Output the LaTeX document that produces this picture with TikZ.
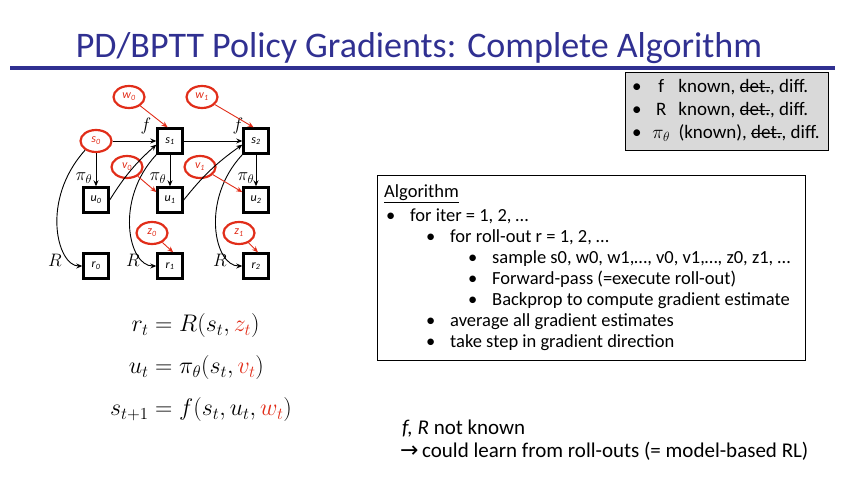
\RequirePackage{fix-cm}
\documentclass[tikz,border=0pt]{standalone}
\usepackage{amsmath}
\usepackage{fontspec}
\setmainfont{Carlito}
\newfontfamily\arrowfont{DejaVu Sans}
\usepackage{xcolor}
\usetikzlibrary{arrows.meta, shapes.geometric}
\definecolor{SlideBlue}{RGB}{48, 48, 145}
\definecolor{NoiseRed}{RGB}{225, 45, 25}
\definecolor{PropGray}{RGB}{217, 217, 217}
\newcommand{\crossout}[1]{\setbox0\hbox{#1}\rlap{\rule[0.27em]{\wd0}{0.07em}}\box0}

\tikzset{
  statebox/.style={draw=black, line width=2.4pt, minimum size=25pt, inner sep=0pt,
    font=\fontsize{12}{13}\selectfont\itshape},
  noise/.style={ellipse, draw=NoiseRed, line width=2.2pt, minimum width=31pt,
    minimum height=22pt, inner sep=0pt, text=NoiseRed, font=\fontsize{12}{13}\selectfont\itshape},
  flow/.style={-{Stealth[length=6pt, width=5pt]}, line width=0.9pt},
  noiseflow/.style={flow, draw=NoiseRed},
  edgelabel/.style={inner sep=0pt, font=\fontsize{18}{18}\selectfont},
  algline/.style={anchor=base west, inner sep=0pt, font=\fontsize{18.5}{21}\selectfont},
  propline/.style={anchor=base west, inner sep=0pt, font=\fontsize{19}{22}\selectfont},
  noteline/.style={anchor=base west, inner sep=0pt, font=\fontsize{21}{24}\selectfont}
}

\begin{document}
\begin{tikzpicture}[x=1pt, y=1pt]
  \useasboundingbox (0,0) rectangle (845,480);

  % title
  \node[anchor=base, inner sep=0pt, text=SlideBlue, font=\fontsize{36}{40}\selectfont]
    (title) at (419,422) {PD/BPTT Policy Gradients: Complete Algorithm};
  \draw[SlideBlue, line width=3.5pt] (10,412) -- (835,412);

  % graph
  \node[noise] (w0) at (129,383) {w\textsubscript{0}};
  \node[noise] (w1) at (202,383) {w\textsubscript{1}};
  \node[noise] (s0) at (96,339) {s\textsubscript{0}};
  \node[statebox] (s1) at (170,339) {s\textsubscript{1}};
  \node[statebox] (s2) at (256,339) {s\textsubscript{2}};
  \node[noise] (v0) at (127,313) {v\textsubscript{0}};
  \node[noise] (v1) at (200,313) {v\textsubscript{1}};
  \node[statebox] (u0) at (96,280) {u\textsubscript{0}};
  \node[statebox] (u1) at (170,280) {u\textsubscript{1}};
  \node[statebox] (u2) at (256,280) {u\textsubscript{2}};
  \node[noise] (z0) at (152,247) {z\textsubscript{0}};
  \node[noise] (z1) at (239,247) {z\textsubscript{1}};
  \node[statebox] (r0) at (96,214) {r\textsubscript{0}};
  \node[statebox] (r1) at (170,214) {r\textsubscript{1}};
  \node[statebox] (r2) at (256,214) {r\textsubscript{2}};

  \node[edgelabel] (f1) at (146,354) {$f$};
  \node[edgelabel] (f2) at (238,354) {$f$};
  \node[edgelabel] (pi0) at (84,302) {$\pi_\theta$};
  \node[edgelabel] (pi1) at (158,302) {$\pi_\theta$};
  \node[edgelabel] (pi2) at (246,302) {$\pi_\theta$};
  \node[edgelabel] (R0) at (55,220) {$R$};
  \node[edgelabel] (R1) at (133,220) {$R$};
  \node[edgelabel] (R2) at (220,220) {$R$};

  \draw[flow] (s0) -- (s1);
  \draw[flow] (s1) -- (s2);
  \draw[flow] (s0) -- (u0);
  \draw[flow] (s1) -- (u1);
  \draw[flow] (s2) -- (u2);
  \draw[flow] (u0.east) to[bend left=8] (s1.195);
  \draw[flow] (u1.east) to[bend left=8] (s2.195);
  \draw[flow] (s0.220) .. controls +(-45,-50) and +(-25,0) .. (r0.west);
  \draw[flow] (s1.south west) .. controls +(-42,-45) and +(-28,0) .. (r1.west);
  \draw[flow] (s2.south west) .. controls +(-42,-45) and +(-28,0) .. (r2.west);
  \draw[noiseflow] (w0) -- (s1.100);
  \draw[noiseflow] (w1) -- (s2.100);
  \draw[noiseflow] (v0) -- (u1.150);
  \draw[noiseflow] (v1) -- (u2.150);
  \draw[noiseflow] (z0) -- (r1.77);
  \draw[noiseflow] (z1) -- (r2.82);

  % equations
  \node[font=\fontsize{24}{29}\selectfont] (eqs) at (201,112) {$\begin{aligned}
    r_t &= R(s_t,\textcolor{NoiseRed}{z_t})\\[10pt]
    u_t &= \pi_\theta(s_t,\textcolor{NoiseRed}{v_t})\\[10pt]
    s_{t+1} &= f(s_t,u_t,\textcolor{NoiseRed}{w_t})
  \end{aligned}$};

  % properties box
  \node[draw=black, fill=PropGray, line width=0.8pt, minimum width=203pt,
    minimum height=78pt] (props) at (726.5,369) {};
  \node[propline] (pb1) at (632,387) {\textbullet};
  \node[propline] (pt1) at (648,387) {\makebox[26pt][c]{f}\ known, \crossout{det.}, diff.};
  \node[propline] (pb2) at (632,364) {\textbullet};
  \node[propline] (pt2) at (648,364) {\makebox[26pt][c]{R}\ known, \crossout{det.}, diff.};
  \node[propline] (pb3) at (632,341) {\textbullet};
  \node[propline] (pt3) at (648,341) {\makebox[26pt][c]{$\pi_\theta$}\ (known), \crossout{det.}, diff.};

  % algorithm box
  \node[draw=black, line width=0.8pt, minimum width=428pt, minimum height=185pt]
    (algo) at (591,212.5) {};
  \node[algline] (alghead) at (384,283) {\underline{Algorithm}};
  \node[algline] (ab1) at (386,259) {\textbullet};
  \node[algline] (at1) at (410,259) {for iter = 1, 2, …};
  \node[algline] (ab2) at (426,238) {\textbullet};
  \node[algline] (at2) at (450,238) {for roll-out r = 1, 2, …};
  \node[algline] (ab3) at (468,217) {\textbullet};
  \node[algline] (at3) at (492,217) {sample s0, w0, w1,…, v0, v1,…, z0, z1, …};
  \node[algline] (ab4) at (468,196) {\textbullet};
  \node[algline] (at4) at (492,196) {Forward-pass (=execute roll-out)};
  \node[algline] (ab5) at (468,175) {\textbullet};
  \node[algline] (at5) at (492,175) {Backprop to compute gradient estimate};
  \node[algline] (ab6) at (426,154) {\textbullet};
  \node[algline] (at6) at (450,154) {average all gradient estimates};
  \node[algline] (ab7) at (426,133) {\textbullet};
  \node[algline] (at7) at (450,133) {take step in gradient direction};

  % note
  \node[noteline] (note1) at (402,46) {\textit{f, R} not known};
  \node[noteline] (note2) at (400,23) {{\arrowfont\fontsize{22}{24}\selectfont →}\,could learn from roll-outs (= model-based RL)};
\end{tikzpicture}
\end{document}
